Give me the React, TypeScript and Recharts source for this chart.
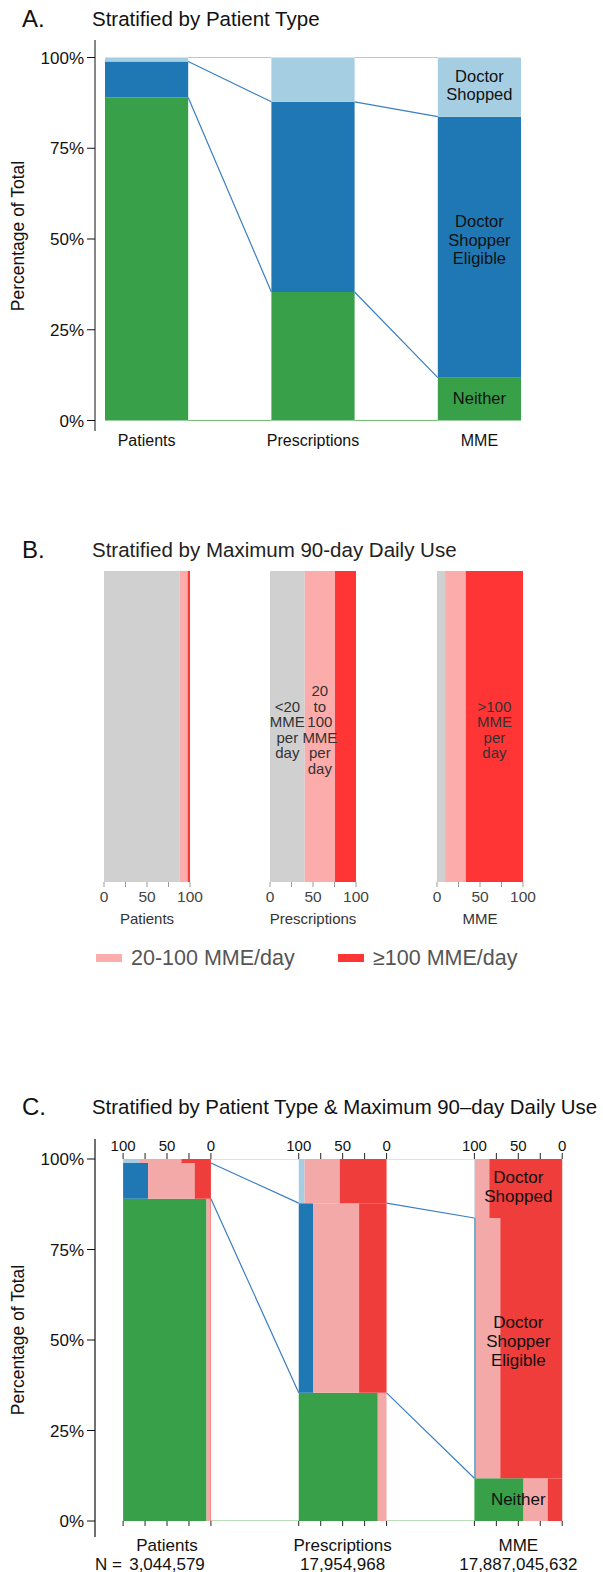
import React from "react";
import {
  ComposedChart,
  BarChart,
  Bar,
  Line,
  XAxis,
  YAxis,
  ReferenceArea,
  ReferenceLine,
  LabelList,
} from "recharts";

const FONT = '"Liberation Sans", Arial, Helvetica, sans-serif';
const INK = "#111";

const CATEGORIES = ["Patients", "Prescriptions", "MME"];
const N_TOTALS = ["3,044,579", "17,954,968", "17,887,045,632"];

// A. share of total by patient type (%)
const NEITHER = [89.0, 35.4, 11.8];
const ELIGIBLE = [9.9, 52.4, 71.9];
const SHOPPED = [1.1, 12.2, 16.3];
const TYPE_LABELS = [["Neither"], ["Doctor", "Shopper", "Eligible"], ["Doctor", "Shopped"]];
const TYPE_COLORS = ["#37a048", "#1f78b4", "#a6cee3"];
const TYPE_LABEL_DY = [-1, -7, -2];

// B. share by maximum 90-day daily use (%)
const USE_LT20 = [88.0, 40.4, 9.4];
const USE_MID = [9.3, 35.2, 24.1];
const USE_HI = [2.7, 24.4, 66.5];
const USE_COLORS = ["#d0d0d0", "#fcacab", "#ff3434"];
const USE_TEXT: Record<string, string[]> = {
  "1-0": ["<20", "MME", "per", "day"],
  "1-1": ["20", "to", "100", "MME", "per", "day"],
  "2-2": [">100", "MME", "per", "day"],
};
const USE_TICKS = [0, 25, 50, 75, 100];
const LEGEND = [
  { label: "20-100 MME/day", color: "#fcacab" },
  { label: "\u2265100 MME/day", color: "#ff3434" },
];

// C. daily use inside each patient type: [<20, 20-100, >=100] (%)
const MIX_PATIENTS = [[95.0, 4.4, 0.6], [28.4, 53.1, 18.5], [18.2, 48.2, 33.6]];
const MIX_RX = [[90.0, 10.0, 0.0], [16.7, 52.0, 31.3], [6.6, 40.1, 53.3]];
const MIX_MME = [[56.0, 27.4, 16.6], [1.5, 28.0, 70.5], [0.5, 16.5, 83.0]];
const MIX = [MIX_PATIENTS, MIX_RX, MIX_MME];
const MIX_COLORS = ["#f4a9a9", "#ee3d3b"];
const SCALE_TICKS = [100, 75, 50, 25, 0];

const TITLE_A = "Stratified by Patient Type";
const TITLE_B = "Stratified by Maximum 90-day Daily Use";
const TITLE_C = "Stratified by Patient Type & Maximum 90\u2013day Daily Use";

const HALF = 0.25;
const SHARES = CATEGORIES.map((_, i) => [NEITHER[i], ELIGIBLE[i], SHOPPED[i]]);
const BOUNDS = SHARES.map((s) => [0, s[0], s[0] + s[1], s[0] + s[1] + s[2]]);
const LINE_COLORS = ["#74bf76", "#3b7fc0", "#3b7fc0", "#a6cee3"];

function connector(level: number) {
  return [
    { x: HALF, y: BOUNDS[0][level] },
    { x: 1 - HALF, y: BOUNDS[1][level] },
    { x: 1, y: null },
    { x: 1 + HALF, y: BOUNDS[1][level] },
    { x: 2 - HALF, y: BOUNDS[2][level] },
  ];
}

function StackText({ cx, cy, lines, size, lh, fill }: { cx: number; cy: number; lines: string[]; size: number; lh: number; fill: string }) {
  const first = cy - ((lines.length - 1) * lh) / 2 + size * 0.35;
  return (
    <text textAnchor="middle" fontSize={size} fill={fill} fontFamily={FONT}>
      {lines.map((t, k) => (
        <tspan key={k} x={cx} y={first + k * lh}>
          {t}
        </tspan>
      ))}
    </text>
  );
}

const areaLabel = (lines: string[], size: number, dy: number) => (p: any) => {
  const vb = p.viewBox ?? p;
  return <StackText cx={vb.x + vb.width / 2} cy={vb.y + vb.height / 2 + dy} lines={lines} size={size} lh={size * 1.12} fill={INK} />;
};

const abs = (left: number, top: number): React.CSSProperties => ({ position: "absolute", left, top });

function Heading({ letter, title, top, color, size }: { letter: string; title: string; top: number; color: string; size: number }) {
  return (
    <>
      <div style={{ ...abs(22, top - 2), fontSize: 24, lineHeight: 1, color: INK, whiteSpace: "nowrap" }}>{letter}</div>
      <div style={{ ...abs(92, top), fontSize: size, lineHeight: 1, color, whiteSpace: "nowrap" }}>{title}</div>
    </>
  );
}

function YTitle({ cy }: { cy: number }) {
  return (
    <div
      style={{
        ...abs(19, cy),
        transform: "translate(-50%, -50%) rotate(-90deg)",
        fontSize: 17.5,
        lineHeight: 1,
        color: INK,
        whiteSpace: "nowrap",
      }}
    >
      Percentage of Total
    </div>
  );
}

function PanelA() {
  return (
    <div style={abs(0, 0)}>
      <ComposedChart width={603} height={470} margin={{ top: 40, right: 72, bottom: 9, left: 10 }}>
        <XAxis
          type="number"
          dataKey="x"
          domain={[-0.31, 2.31]}
          allowDataOverflow
          ticks={[0, 1, 2]}
          interval={0}
          tickFormatter={(v: number) => CATEGORIES[v]}
          axisLine={false}
          tickLine={false}
          tickSize={0}
          tickMargin={4}
          height={30}
          tick={{ fontSize: 16, fill: INK }}
        />
        <YAxis
          type="number"
          domain={[-2.89, 104.82]}
          allowDataOverflow
          ticks={[0, 25, 50, 75, 100]}
          interval={0}
          tickFormatter={(v: number) => `${v}%`}
          width={85}
          axisLine={{ stroke: INK }}
          tickLine={{ stroke: INK }}
          tickSize={8}
          tickMargin={3}
          tick={{ fontSize: 17, fill: INK }}
        />
        {CATEGORIES.map((_, i) =>
          [0, 1, 2].map((s) => (
            <ReferenceArea
              key={`a-${i}-${s}`}
              x1={i - HALF}
              x2={i + HALF}
              y1={BOUNDS[i][s]}
              y2={BOUNDS[i][s + 1]}
              fill={TYPE_COLORS[s]}
              fillOpacity={1}
              stroke="none"
              label={i === 2 ? areaLabel(TYPE_LABELS[s], 16.5, TYPE_LABEL_DY[s]) : undefined}
            />
          ))
        )}
        {[0, 1, 2, 3].map((lv) => (
          <Line
            key={`al-${lv}`}
            data={connector(lv)}
            dataKey="y"
            stroke={LINE_COLORS[lv]}
            strokeWidth={1.2}
            dot={false}
            activeDot={false}
            isAnimationActive={false}
          />
        ))}
      </ComposedChart>
    </div>
  );
}

const B_LEFT = [104, 270, 437];
const B_TOP = 571;
const B_HEIGHT = 311;

function UseColumn({ idx }: { idx: number }) {
  const row = { name: CATEGORIES[idx], lt20: USE_LT20[idx], mid: USE_MID[idx], hi: USE_HI[idx] };
  const keys = ["lt20", "mid", "hi"];
  return (
    <div style={abs(B_LEFT[idx] - 24, B_TOP)}>
      <BarChart
        layout="vertical"
        width={134}
        height={B_HEIGHT + 60}
        data={[row]}
        margin={{ top: 0, right: 24, bottom: 0, left: 24 }}
        barCategoryGap={0}
      >
        <XAxis
          type="number"
          domain={[0, 100]}
          ticks={USE_TICKS}
          interval={0}
          tickFormatter={(v: number) => (v % 50 === 0 ? String(v) : "")}
          axisLine={false}
          tickSize={5}
          tickMargin={4}
          tickLine={{ stroke: "#999" }}
          height={60}
          tick={{ fontSize: 15.5, fill: "#444" }}
          label={{ value: CATEGORIES[idx], position: "insideBottom", offset: 18, fill: "#333", fontSize: 15 }}
        />
        <YAxis type="category" dataKey="name" hide />
        {keys.map((k, s) => (
          <Bar key={k} dataKey={k} stackId="use" fill={USE_COLORS[s]} isAnimationActive={false}>
            {USE_TEXT[`${idx}-${s}`] ? (
              <LabelList
                dataKey={k}
                content={(p: any) => {
                  const vb = p.viewBox ?? p;
                  return (
                    <StackText
                      cx={vb.x + vb.width / 2}
                      cy={vb.y + vb.height / 2 + 3}
                      lines={USE_TEXT[`${idx}-${s}`]}
                      size={15}
                      lh={15.5}
                      fill="#333"
                    />
                  );
                }}
              />
            ) : null}
          </Bar>
        ))}
      </BarChart>
    </div>
  );
}

function UseLegend({ top }: { top: number }) {
  const lefts = [96, 338];
  return (
    <>
      {LEGEND.map((it, k) => (
        <div key={it.label} style={{ ...abs(lefts[k], top - 11), display: "flex", alignItems: "center", whiteSpace: "nowrap" }}>
          <span style={{ display: "inline-block", width: 26, height: 8, background: it.color, marginRight: 9 }} />
          <span style={{ fontSize: 21.5, lineHeight: "22px", color: "#555" }}>{it.label}</span>
        </div>
      ))}
    </>
  );
}

const C_TOP = 1131;
const C_DOMAIN: [number, number] = [-0.41, 2.3];
const C_SCALE_POS = CATEGORIES.flatMap((_, i) => SCALE_TICKS.map((p) => i + HALF - (p / 100) * 2 * HALF));
const scaleLabel = (v: number) => {
  const i = Math.round(v);
  const p = Math.round(((i + HALF - v) / (2 * HALF)) * 100);
  return p % 50 === 0 ? String(p) : "";
};

// bottom axis: tick marks on the 0-100 scale, category names under the column centres
function BottomTick(props: any) {
  const { x, y, payload } = props;
  const v = payload.value as number;
  const i = Math.round(v);
  if (Math.abs(v - i) > 1e-6) return <g />;
  return (
    <g fontSize={17} fill={INK} fontFamily={FONT}>
      <text x={x} y={y + 24.5} textAnchor="middle">
        {CATEGORIES[i]}
      </text>
      <text x={x} y={y + 43.5} textAnchor="middle">
        {N_TOTALS[i]}
      </text>
      {i === 0 ? (
        <text x={x - 45} y={y + 43.5} textAnchor="end">
          N =
        </text>
      ) : null}
    </g>
  );
}

function PanelC() {
  const cells: React.ReactNode[] = [];
  CATEGORIES.forEach((_, i) => {
    [0, 1, 2].forEach((s) => {
      const colors = [TYPE_COLORS[s], ...MIX_COLORS];
      let acc = i - HALF;
      MIX[i][s].forEach((share, k) => {
        const w = (share / 100) * 2 * HALF;
        if (w > 0) {
          cells.push(
            <ReferenceArea
              key={`c-${i}-${s}-${k}`}
              x1={acc}
              x2={acc + w}
              y1={BOUNDS[i][s]}
              y2={BOUNDS[i][s + 1]}
              fill={colors[k]}
              fillOpacity={1}
              stroke="none"
            />
          );
        }
        acc += w;
      });
    });
  });
  return (
    <div style={abs(0, C_TOP)}>
      <ComposedChart width={603} height={1572 - C_TOP} margin={{ top: 0, right: 32, bottom: 0, left: 10 }}>
        <XAxis
          xAxisId="top"
          orientation="top"
          type="number"
          dataKey="x"
          domain={C_DOMAIN}
          allowDataOverflow
          ticks={C_SCALE_POS}
          interval={0}
          tickFormatter={scaleLabel}
          axisLine={false}
          tickSize={6}
          tickMargin={2}
          tickLine={{ stroke: "#222" }}
          height={28}
          tick={{ fontSize: 15, fill: INK }}
        />
        <XAxis
          type="number"
          dataKey="x"
          domain={C_DOMAIN}
          allowDataOverflow
          ticks={C_SCALE_POS}
          interval={0}
          axisLine={false}
          tickSize={5}
          tickMargin={0}
          tickLine={{ stroke: "#222" }}
          height={51}
          tick={(p: any) => <BottomTick {...p} />}
        />
        <YAxis
          type="number"
          domain={[0, 100]}
          allowDataOverflow
          ticks={[0, 25, 50, 75, 100]}
          interval={0}
          tickFormatter={(v: number) => `${v}%`}
          width={85}
          axisLine={false}
          tickLine={{ stroke: INK }}
          tickSize={8}
          tickMargin={3}
          tick={{ fontSize: 17, fill: INK }}
        />
        <ReferenceLine
          segment={[
            { x: C_DOMAIN[0], y: -4.4 },
            { x: C_DOMAIN[0], y: 105.5 },
          ]}
          ifOverflow="visible"
          stroke={INK}
          strokeWidth={1.2}
        />
        {cells}
        {[0, 1, 2].map((s) => (
          <ReferenceArea
            key={`cl-${s}`}
            x1={2 - HALF}
            x2={2 + HALF}
            y1={BOUNDS[2][s]}
            y2={BOUNDS[2][s + 1]}
            fillOpacity={0}
            stroke="none"
            label={areaLabel(TYPE_LABELS[s], 17, TYPE_LABEL_DY[s])}
          />
        ))}
        {[0, 1, 2, 3].map((lv) => (
          <Line
            key={`cline-${lv}`}
            data={connector(lv)}
            dataKey="y"
            stroke={LINE_COLORS[lv]}
            strokeWidth={1.2}
            dot={false}
            activeDot={false}
            isAnimationActive={false}
          />
        ))}
        {/* keeps the top scale axis tied to a series so it draws its ticks */}
        <Line
          xAxisId="top"
          data={connector(3)}
          dataKey="y"
          stroke="none"
          dot={false}
          activeDot={false}
          isAnimationActive={false}
        />
      </ComposedChart>
    </div>
  );
}

export default function App() {
  return (
    <div
      style={{
        position: "absolute",
        left: 0,
        top: 0,
        width: 603,
        height: 1572,
        overflow: "hidden",
        background: "#fff",
        fontFamily: FONT,
      }}
    >
      <Heading letter="A." title={TITLE_A} top={9} color={INK} size={20.5} />
      <PanelA />
      <YTitle cy={236} />

      <Heading letter="B." title={TITLE_B} top={540} color="#222" size={20.5} />
      {CATEGORIES.map((_, i) => (
        <UseColumn key={i} idx={i} />
      ))}
      <UseLegend top={958} />

      <Heading letter="C." title={TITLE_C} top={1097} color={INK} size={20.4} />
      <PanelC />
      <YTitle cy={1340} />
    </div>
  );
}
